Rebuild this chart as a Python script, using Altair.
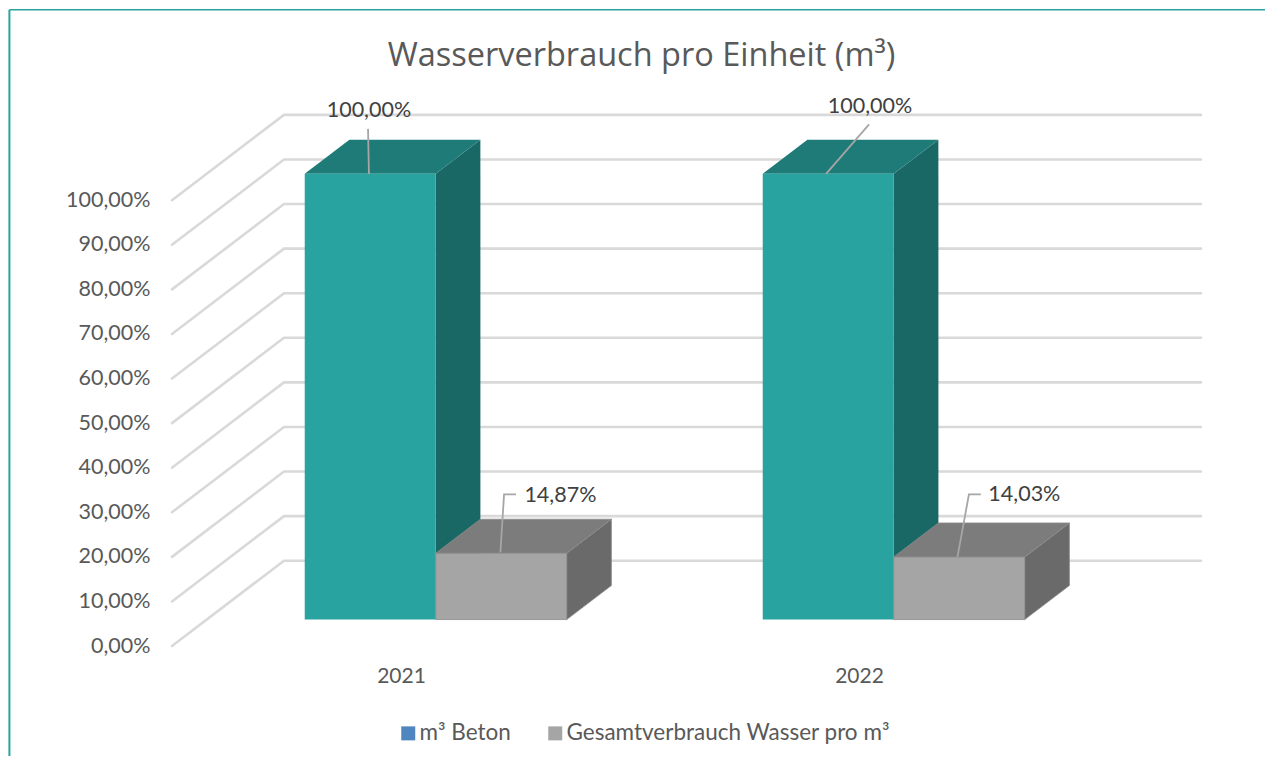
import altair as alt
import pandas as pd

# ---- values
years = [2021, 2022]
beton = [100.0, 100.0]
wasser = [14.87, 14.03]
series_names = ["m³ Beton", "Gesamtverbrauch Wasser pro m³"]
y_ticks = [0, 10, 20, 30, 40, 50, 60, 70, 80, 90, 100]
label_texts = ["100,00%", "100,00%", "14,87%", "14,03%"]
label_x = [2020.930, 2022.024, 2021.348, 2022.361]
label_y = [120.1, 120.9, 33.6, 33.9]
leaders = {
    "a": ([2020.928, 2020.930], [116.0, 105.9]),
    "b": ([2021.928, 2022.022], [105.9, 117.0]),
    "c": ([2021.217, 2021.225, 2021.251], [21.0, 34.0, 34.0]),
    "d": ([2022.215, 2022.240, 2022.266], [20.0, 34.0, 34.0]),
}

# ---- pseudo-3D frame, in data units
X_MIN, X_MAX = 2020.5, 2022.7467
Y_MIN, Y_MAX = 0.0, 124.5
FLOOR_RIGHT = 2022.7467
DX, DY = 0.2445, 19.14          # full depth of the box
D0, D1 = 0.31, 0.709            # front and back of the bars along the depth
BAR = 0.286

FONT = "Lato"
TXT = "#595959"
x_scale = alt.Scale(domain=[X_MIN, X_MAX], nice=False, zero=False)
y_scale = alt.Scale(domain=[Y_MIN, Y_MAX], nice=False, zero=False)
X = lambda f, **k: alt.X(f, type="quantitative", scale=x_scale, title=None, **k)
Y = lambda f, **k: alt.Y(f, type="quantitative", scale=y_scale, title=None, stack=None, **k)


def faces(values, lo_off, hi_off):
    front, side, top = [], [], []
    for yr, v in zip(years, values):
        l, r = yr + lo_off, yr + hi_off
        front.append(dict(x=l + D0 * DX, x2=r + D0 * DX, y=D0 * DY, y2=v + D0 * DY))
        for d in (D0, D1):
            side.append(dict(id=yr, x=r + d * DX, y=d * DY, y2=v + d * DY))
            top.append(dict(id=yr, x=l + d * DX, x2=r + d * DX, y=v + d * DY))
    return pd.DataFrame(front), pd.DataFrame(side), pd.DataFrame(top)


def box(values, lo_off, hi_off, c_front, c_side, c_top, edge=None):
    f, s, t = faces(values, lo_off, hi_off)
    extra = dict(stroke=edge, strokeWidth=0.8) if edge else {}
    side = alt.Chart(s).mark_area(orient="vertical", color=c_side, **extra).encode(
        x=X("x"), y=Y("y"), y2="y2", detail="id:N")
    tp = alt.Chart(t).mark_area(orient="horizontal", color=c_top, **extra).encode(
        y=Y("y"), x=X("x"), x2="x2", detail="id:N")
    fr = alt.Chart(f).mark_rect(color=c_front, **extra).encode(
        x=X("x"), x2="x2", y=Y("y"), y2="y2")
    return [side, tp, fr]


# gridlines on the side and back walls
grid_rows = []
for v in y_ticks:
    grid_rows += [dict(v=v, o=0, x=X_MIN, y=v),
                  dict(v=v, o=1, x=X_MIN + DX, y=v + DY),
                  dict(v=v, o=2, x=FLOOR_RIGHT, y=v + DY)]
grid = alt.Chart(pd.DataFrame(grid_rows)).mark_line(
    color="#d9d9d9", strokeWidth=2.6, strokeCap="round", strokeJoin="round"
).encode(x=X("x"), y=Y("y"), detail="v:N", order="o:Q")

# real axes
axes_df = pd.DataFrame({"x": [float(y) for y in years], "y": [0.0, 0.0]})
axes = alt.Chart(axes_df).mark_point(opacity=0).encode(
    x=alt.X("x:Q", scale=x_scale, title=None, axis=alt.Axis(
        values=years, format="d", domain=False, ticks=False, grid=False, labelPadding=19,
        labelFont=FONT, labelFontSize=21, labelColor=TXT, labelFlush=False)),
    y=alt.Y("y:Q", scale=y_scale, title=None, axis=alt.Axis(
        values=y_ticks, labelExpr="replace(format(datum.value,'.2f'),'.',',')+'%'",
        domain=False, ticks=False, grid=False, labelPadding=22,
        labelFont=FONT, labelFontSize=21.5, labelColor=TXT)),
)

# legend
legend_df = pd.DataFrame({"s": series_names, "x": [float(y) for y in years], "y": [0.0, 0.0]})
legend = alt.Chart(legend_df).mark_square(opacity=0).encode(
    x=X("x"), y=Y("y"),
    color=alt.Color("s:N", scale=alt.Scale(domain=series_names, range=["#4f86bf", "#a5a5a5"]),
                    legend=alt.Legend(
                        title=None, orient="none", legendX=225, legendY=631, direction="horizontal",
                        columns=2, symbolType="square", symbolSize=196, symbolOpacity=1,
                        symbolStrokeWidth=0, labelFont=FONT, labelFontSize=22.5, labelColor=TXT,
                        labelOffset=0, columnPadding=33, labelLimit=500)),
)

# leader lines
rows = []
for k, (xs, ys) in leaders.items():
    for i, (a, b) in enumerate(zip(xs, ys)):
        rows.append(dict(id=k, o=i, x=a, y=b))
lead = alt.Chart(pd.DataFrame(rows)).mark_line(color="#a6a6a6", strokeWidth=1.8).encode(
    x=X("x"), y=Y("y"), detail="id:N", order="o:Q")

labels = alt.Chart(pd.DataFrame({"t": label_texts, "x": label_x, "y": label_y})).mark_text(
    font=FONT, fontSize=21.5, color="#404040"
).encode(x=X("x"), y=Y("y"), text="t:N")

# outer frame
frame_left, frame_right = 2020.145, 2022.92
frame_top, frame_bottom = 142.7, -27.0
frame_l = alt.Chart(pd.DataFrame({"x": [frame_left], "y": [frame_top], "y2": [frame_bottom]})).mark_rule(
    color="#28a39f", strokeWidth=2).encode(x=X("x"), y=Y("y"), y2="y2")
frame_t = alt.Chart(pd.DataFrame({"x": [frame_left], "x2": [frame_right], "y": [frame_top]})).mark_rule(
    color="#28a39f", strokeWidth=1.5).encode(x=X("x"), x2="x2", y=Y("y"))

layers = [axes, frame_l, frame_t, grid, legend]
layers += box(beton, -BAR, 0.0, "#28a39f", "#1a6865", "#1e7b78")
layers += box(wasser, 0.0, BAR, "#a5a5a5", "#6a6a6a", "#7c7c7c", edge="#8c8c8c")
layers += [lead, labels]

chart = alt.layer(*layers).properties(
    width=1029,
    height=555,
    autosize=alt.AutoSizeParams(type="none"),
    padding={"left": 164, "top": 83, "right": 64, "bottom": 110},
    title=alt.TitleParams(
        "Wasserverbrauch pro Einheit (m³)", font="Open Sans", fontSize=32.5, fontWeight="normal",
        color=TXT, anchor="middle", dx=-45, offset=-64),
).configure_view(stroke=None)

chart.save("out.html", embed_options={"renderer": "svg", "actions": False})
